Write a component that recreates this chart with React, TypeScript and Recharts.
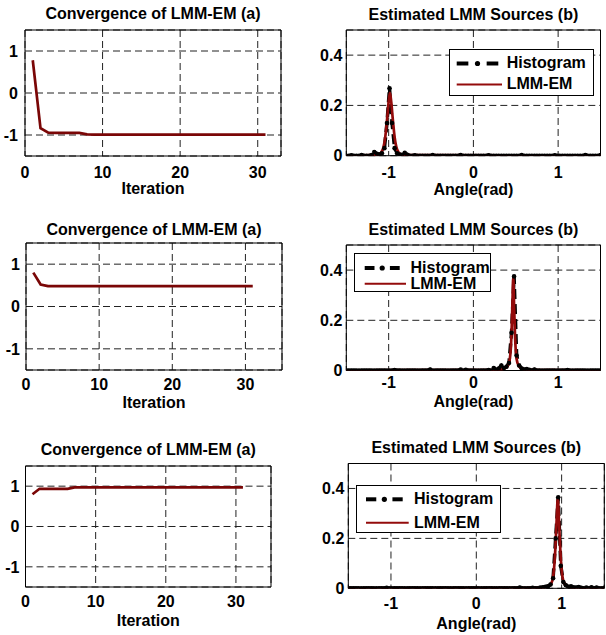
import React from 'react';
import { LineChart, Line, XAxis, YAxis, CartesianGrid, ReferenceArea } from 'recharts';

// ---------- data ----------
const iterations = [1, 2, 3, 4, 5, 6, 7, 8, 9, 10, 11, 12, 13, 14, 15, 16, 17, 18, 19, 20, 21, 22, 23, 24, 25, 26, 27, 28, 29, 30, 31];
const convA = [0.78, -0.84, -0.945, -0.95, -0.95, -0.95, -0.95, -0.985, -0.99, -0.99, -0.99, -0.99, -0.99, -0.99, -0.99, -0.99, -0.99, -0.99, -0.99, -0.99, -0.99, -0.99, -0.99, -0.99, -0.99, -0.99, -0.99, -0.99, -0.99, -0.99, -0.99];
const convB = [0.8, 0.52, 0.48, 0.48, 0.48, 0.48, 0.48, 0.48, 0.48, 0.48, 0.48, 0.48, 0.48, 0.48, 0.48, 0.48, 0.48, 0.48, 0.48, 0.48, 0.48, 0.48, 0.48, 0.48, 0.48, 0.48, 0.48, 0.48, 0.48, 0.48, 0.48];
const convC = [0.8, 0.935, 0.935, 0.935, 0.935, 0.935, 0.97, 0.97, 0.97, 0.97, 0.97, 0.97, 0.97, 0.97, 0.97, 0.97, 0.97, 0.97, 0.97, 0.97, 0.97, 0.97, 0.97, 0.97, 0.97, 0.97, 0.97, 0.97, 0.97, 0.97, 0.97];

const angleBins = [
  -1.5, -1.47, -1.44, -1.41, -1.38, -1.35, -1.32, -1.29, -1.26, -1.23,
  -1.2, -1.17, -1.14, -1.11, -1.08, -1.05, -1.02, -0.99, -0.96, -0.93,
  -0.9, -0.87, -0.84, -0.81, -0.78, -0.75, -0.72, -0.69, -0.66, -0.63,
  -0.6, -0.57, -0.54, -0.51, -0.48, -0.45, -0.42, -0.39, -0.36, -0.33,
  -0.3, -0.27, -0.24, -0.21, -0.18, -0.15, -0.12, -0.09, -0.06, -0.03,
  0, 0.03, 0.06, 0.09, 0.12, 0.15, 0.18, 0.21, 0.24, 0.27,
  0.3, 0.33, 0.36, 0.39, 0.42, 0.45, 0.48, 0.51, 0.54, 0.57,
  0.6, 0.63, 0.66, 0.69, 0.72, 0.75, 0.78, 0.81, 0.84, 0.87,
  0.9, 0.93, 0.96, 0.99, 1.02, 1.05, 1.08, 1.11, 1.14, 1.17,
  1.2, 1.23, 1.26, 1.29, 1.32, 1.35, 1.38, 1.41, 1.44, 1.47,
  1.5,
];

const histA = [
  0, 0, 0.002, 0, 0, 0, 0.003, 0, 0, 0,
  0.003, 0.015, 0.008, 0.005, 0.01, 0.03, 0.13, 0.268, 0.13, 0.03,
  0.01, 0.005, 0.004, 0.012, 0.004, 0, 0, 0.002, 0, 0,
  0, 0, 0, 0, 0.003, 0, 0, 0, 0, 0,
  0, 0, 0, 0, 0, 0.003, 0, 0, 0, 0,
  0, 0, 0, 0, 0, 0, 0.002, 0, 0, 0,
  0, 0, 0, 0, 0, 0, 0, 0, 0, 0.003,
  0, 0, 0, 0, 0, 0, 0, 0, 0, 0,
  0, 0, 0.002, 0, 0, 0, 0, 0, 0, 0,
  0, 0, 0, 0, 0.003, 0, 0, 0, 0, 0,
  0.003,
];

const histB = [
  0, 0, 0, 0, 0, 0, 0, 0, 0, 0,
  0, 0, 0, 0, 0, 0, 0, 0, 0, 0.002,
  0, 0, 0, 0, 0, 0, 0, 0, 0, 0,
  0, 0, 0, 0.004, 0, 0, 0, 0, 0, 0,
  0, 0, 0, 0, 0, 0.004, 0, 0.003, 0, 0,
  0, 0, 0, 0, 0, 0, 0.002, 0, 0.01, 0.003,
  0.008, 0.02, 0.01, 0.015, 0.03, 0.15, 0.375, 0.06, 0.02, 0.008,
  0.004, 0.006, 0.003, 0, 0.004, 0, 0, 0, 0, 0,
  0, 0, 0, 0, 0, 0, 0, 0.002, 0, 0,
  0, 0, 0, 0, 0, 0, 0, 0, 0, 0,
  0,
];

const histC = [
  0, 0, 0, 0, 0, 0, 0, 0, 0, 0,
  0, 0, 0, 0, 0, 0.002, 0, 0, 0, 0,
  0, 0, 0, 0, 0, 0, 0, 0, 0, 0,
  0, 0, 0, 0, 0, 0, 0, 0, 0, 0,
  0, 0, 0, 0, 0, 0, 0, 0, 0, 0,
  0, 0, 0, 0, 0, 0, 0, 0, 0, 0,
  0, 0, 0, 0, 0, 0, 0, 0.003, 0, 0,
  0, 0, 0.002, 0, 0, 0.003, 0.004, 0.006, 0.008, 0.015,
  0.04, 0.2, 0.365, 0.09, 0.025, 0.012, 0.006, 0.008, 0.004, 0.003,
  0.005, 0.002, 0, 0.003, 0, 0.004, 0, 0.003, 0, 0,
  0.002,
];

const lmmAnglesA = [-1.5, -1.2, -1.12, -1.09, -1.06, -1.04, -1.02, -1.0, -0.985, -0.97, -0.95, -0.93, -0.91, -0.88, -0.85, -0.75, 1.5];
const lmmValuesA = [0.001, 0.002, 0.005, 0.012, 0.035, 0.075, 0.14, 0.215, 0.25, 0.215, 0.14, 0.075, 0.035, 0.012, 0.005, 0.002, 0.001];
const lmmAnglesB = [-1.5, 0.2, 0.34, 0.39, 0.42, 0.44, 0.45, 0.46, 0.47, 0.48, 0.49, 0.5, 0.52, 0.55, 0.6, 0.75, 1.5];
const lmmValuesB = [0.001, 0.002, 0.005, 0.012, 0.03, 0.08, 0.15, 0.26, 0.37, 0.26, 0.15, 0.08, 0.03, 0.012, 0.005, 0.002, 0.001];
const lmmAnglesC = [-1.5, 0.6, 0.8, 0.86, 0.89, 0.91, 0.925, 0.94, 0.955, 0.97, 0.985, 1.0, 1.02, 1.05, 1.11, 1.3, 1.5];
const lmmValuesC = [0.001, 0.002, 0.004, 0.012, 0.03, 0.075, 0.15, 0.26, 0.36, 0.26, 0.15, 0.075, 0.03, 0.012, 0.004, 0.002, 0.001];

const iterTicks = [0, 10, 20, 30];
const convYTicks = [-1, 0, 1];
const angleTicks = [-1, 0, 1];
const densityTicks = [0, 0.2, 0.4];

const convTitle = 'Convergence of LMM-EM (a)';
const srcTitle = 'Estimated LMM Sources (b)';
const iterLabel = 'Iteration';
const angleLabel = 'Angle(rad)';
const legendNames = ['Histogram', 'LMM-EM'];

// ---------- style ----------
const FONT = '"Liberation Sans", Arial, Helvetica, sans-serif';
const tickStyle = { fontSize: 16, fontWeight: 700, fill: '#000', fontFamily: FONT };
const CONV_COLOR = '#7a0606';
const LMM_COLOR = '#930b0b';
const GRID_DASH = '7 4';

type Plot = { l: number; t: number; r: number; b: number };

function TextDiv({ text, cx, cy, w = 260 }: { text: string; cx: number; cy: number; w?: number }) {
  return (
    <div
      style={{
        position: 'absolute',
        left: cx - w / 2,
        top: cy - 9,
        width: w,
        height: 18,
        lineHeight: '18px',
        textAlign: 'center',
        fontFamily: FONT,
        fontWeight: 700,
        fontSize: 16,
        color: '#000',
        whiteSpace: 'nowrap',
      }}
    >
      {text}
    </div>
  );
}

function ConvPanel(props: {
  top: number; H: number; plot: Plot; xMax: number; values: number[];
  xTickMargin: number; yTickMargin: number; titleY: number; labelY: number;
}) {
  const { top, H, plot, xMax, values, xTickMargin, yTickMargin, titleY, labelY } = props;
  const W = 303;
  const data = iterations.map((it, i) => ({ it, v: values[i] }));
  const cx = (plot.l + plot.r) / 2;
  return (
    <>
      <div style={{ position: 'absolute', left: 0, top, width: W, height: H }}>
        <LineChart width={W} height={H} data={data} margin={{ top: plot.t - top, right: W - plot.r, bottom: 0, left: 0 }}>
          <CartesianGrid stroke="#222" strokeDasharray={GRID_DASH} />
          <XAxis dataKey="it" type="number" domain={[0, xMax]} ticks={iterTicks} interval={0}
            height={top + H - plot.b} tickLine={false} axisLine={false} tickSize={0} tickMargin={xTickMargin} tick={tickStyle} />
          <YAxis type="number" domain={[-1.5, 1.5]} ticks={convYTicks} interval={0}
            width={plot.l} tickLine={false} axisLine={false} tickSize={0} tickMargin={yTickMargin} tick={tickStyle} />
          <Line dataKey="v" type="linear" stroke={CONV_COLOR} strokeWidth={2.7} dot={false} isAnimationActive={false} />
          <ReferenceArea x1={0} x2={xMax} y1={-1.5} y2={1.5} fill="none" fillOpacity={0} stroke="#000" strokeWidth={1} />
        </LineChart>
      </div>
      <TextDiv text={convTitle} cx={cx} cy={titleY} />
      <TextDiv text={iterLabel} cx={cx} cy={labelY} />
    </>
  );
}

type LegendGeom = { l: number; t: number; r: number; b: number; rows: [number, number]; s1: number; s2: number; s3: number; tx: number };

function LegendBox({ g }: { g: LegendGeom }) {
  const w = g.r - g.l;
  const h = g.b - g.t;
  const y1 = g.rows[0] - g.t;
  const y2 = g.rows[1] - g.t;
  const a = g.s1 - g.l;
  const b = g.s2 - g.l;
  const seg = (b - a) * 0.28;
  const mid = (a + b) / 2;
  return (
    <div style={{ position: 'absolute', left: g.l, top: g.t, width: w, height: h, border: '1px solid #000', background: '#fff', boxSizing: 'border-box' }}>
      <svg width={w} height={h} style={{ position: 'absolute', left: -1, top: -1 }}>
        <line x1={a} x2={a + seg} y1={y1} y2={y1} stroke="#000" strokeWidth={4} />
        <circle cx={mid} cy={y1} r={2.6} fill="#000" />
        <line x1={b - seg} x2={b} y1={y1} y2={y1} stroke="#000" strokeWidth={4} />
        <line x1={a} x2={g.s3 - g.l} y1={y2} y2={y2} stroke={LMM_COLOR} strokeWidth={2} />
      </svg>
      {legendNames.map((n, i) => (
        <div key={n} style={{ position: 'absolute', left: g.tx - g.l - 1, top: g.rows[i] - g.t - 10, lineHeight: '18px', fontFamily: FONT, fontWeight: 700, fontSize: 16, color: '#000', whiteSpace: 'nowrap' }}>
          {n}
        </div>
      ))}
    </div>
  );
}

function SrcPanel(props: {
  top: number; H: number; plot: Plot; hist: number[]; lmmA: number[]; lmmV: number[];
  xTickMargin: number; yTickMargin: number; titleY: number; labelY: number; legend: LegendGeom;
}) {
  const { top, H, plot, hist, lmmA, lmmV, xTickMargin, yTickMargin, titleY, labelY, legend } = props;
  const W = 303;
  const left = 303;
  const histData = angleBins.map((a, i) => ({ a, h: hist[i] }));
  const lmmData = lmmA.map((a, i) => ({ a, m: lmmV[i] }));
  const cx = (plot.l + plot.r) / 2;
  return (
    <>
      <div style={{ position: 'absolute', left, top, width: W, height: H }}>
        <LineChart width={W} height={H} margin={{ top: plot.t - top, right: left + W - plot.r, bottom: 0, left: 0 }}>
          <CartesianGrid stroke="#222" strokeDasharray={GRID_DASH} />
          <XAxis dataKey="a" type="number" domain={[-1.5, 1.5]} ticks={angleTicks} interval={0} allowDataOverflow
            height={top + H - plot.b} tickLine={false} axisLine={false} tickSize={0} tickMargin={xTickMargin} tick={tickStyle} />
          <YAxis type="number" domain={[0, 0.5]} ticks={densityTicks} interval={0} allowDataOverflow
            width={plot.l - left} tickLine={false} axisLine={false} tickSize={0} tickMargin={yTickMargin} tick={tickStyle} />
          <Line data={histData} dataKey="h" type="linear" stroke="#000" strokeWidth={3.5} strokeDasharray="10 5"
            dot={{ r: 2.3, fill: '#000', stroke: '#000', strokeWidth: 0 }} isAnimationActive={false} />
          <Line data={lmmData} dataKey="m" type="monotone" stroke={LMM_COLOR} strokeWidth={2.7} dot={false} isAnimationActive={false} />
          <ReferenceArea x1={-1.5} x2={1.5} y1={0} y2={0.5} fill="none" fillOpacity={0} stroke="#000" strokeWidth={1} />
        </LineChart>
      </div>
      <LegendBox g={legend} />
      <TextDiv text={srcTitle} cx={cx} cy={titleY} />
      <TextDiv text={angleLabel} cx={cx} cy={labelY} />
    </>
  );
}

export default function App() {
  return (
    <div style={{ position: 'absolute', left: 0, top: 0, width: 606, height: 635, background: '#fff', overflow: 'hidden' }}>
      <ConvPanel top={0} H={210} plot={{ l: 25, t: 30, r: 281, b: 156 }} xMax={33} values={convA}
        xTickMargin={10.5} yTickMargin={7} titleY={14} labelY={189} />
      <ConvPanel top={210} H={210} plot={{ l: 26, t: 243, r: 282, b: 370 }} xMax={35} values={convB}
        xTickMargin={8.5} yTickMargin={6} titleY={230} labelY={403} />
      <ConvPanel top={420} H={215} plot={{ l: 25.5, t: 466, r: 271, b: 587 }} xMax={35} values={convC}
        xTickMargin={8.5} yTickMargin={6} titleY={450} labelY={621} />

      <SrcPanel top={0} H={210} plot={{ l: 346.3, t: 30, r: 600.5, b: 155.7 }} hist={histA} lmmA={lmmAnglesA} lmmV={lmmValuesA}
        xTickMargin={11} yTickMargin={4} titleY={15} labelY={190}
        legend={{ l: 449, t: 48.5, r: 593.5, b: 96, rows: [63, 84], s1: 456.7, s2: 498.3, s3: 502, tx: 506.7 }} />
      <SrcPanel top={210} H={210} plot={{ l: 346.3, t: 245, r: 600.5, b: 370.5 }} hist={histB} lmmA={lmmAnglesB} lmmV={lmmValuesB}
        xTickMargin={6} yTickMargin={4} titleY={230} labelY={402}
        legend={{ l: 354, t: 253.3, r: 491, b: 291.7, rows: [268.3, 284], s1: 364.7, s2: 399.7, s3: 406, tx: 410.5 }} />
      <SrcPanel top={420} H={215} plot={{ l: 348.3, t: 463.5, r: 604.3, b: 588.3 }} hist={histC} lmmA={lmmAnglesC} lmmV={lmmValuesC}
        xTickMargin={9.5} yTickMargin={4} titleY={448} labelY={624}
        legend={{ l: 356.3, t: 485, r: 501.3, b: 533.3, rows: [499.3, 522.7], s1: 366.3, s2: 403, s3: 409, tx: 414 }} />
    </div>
  );
}
